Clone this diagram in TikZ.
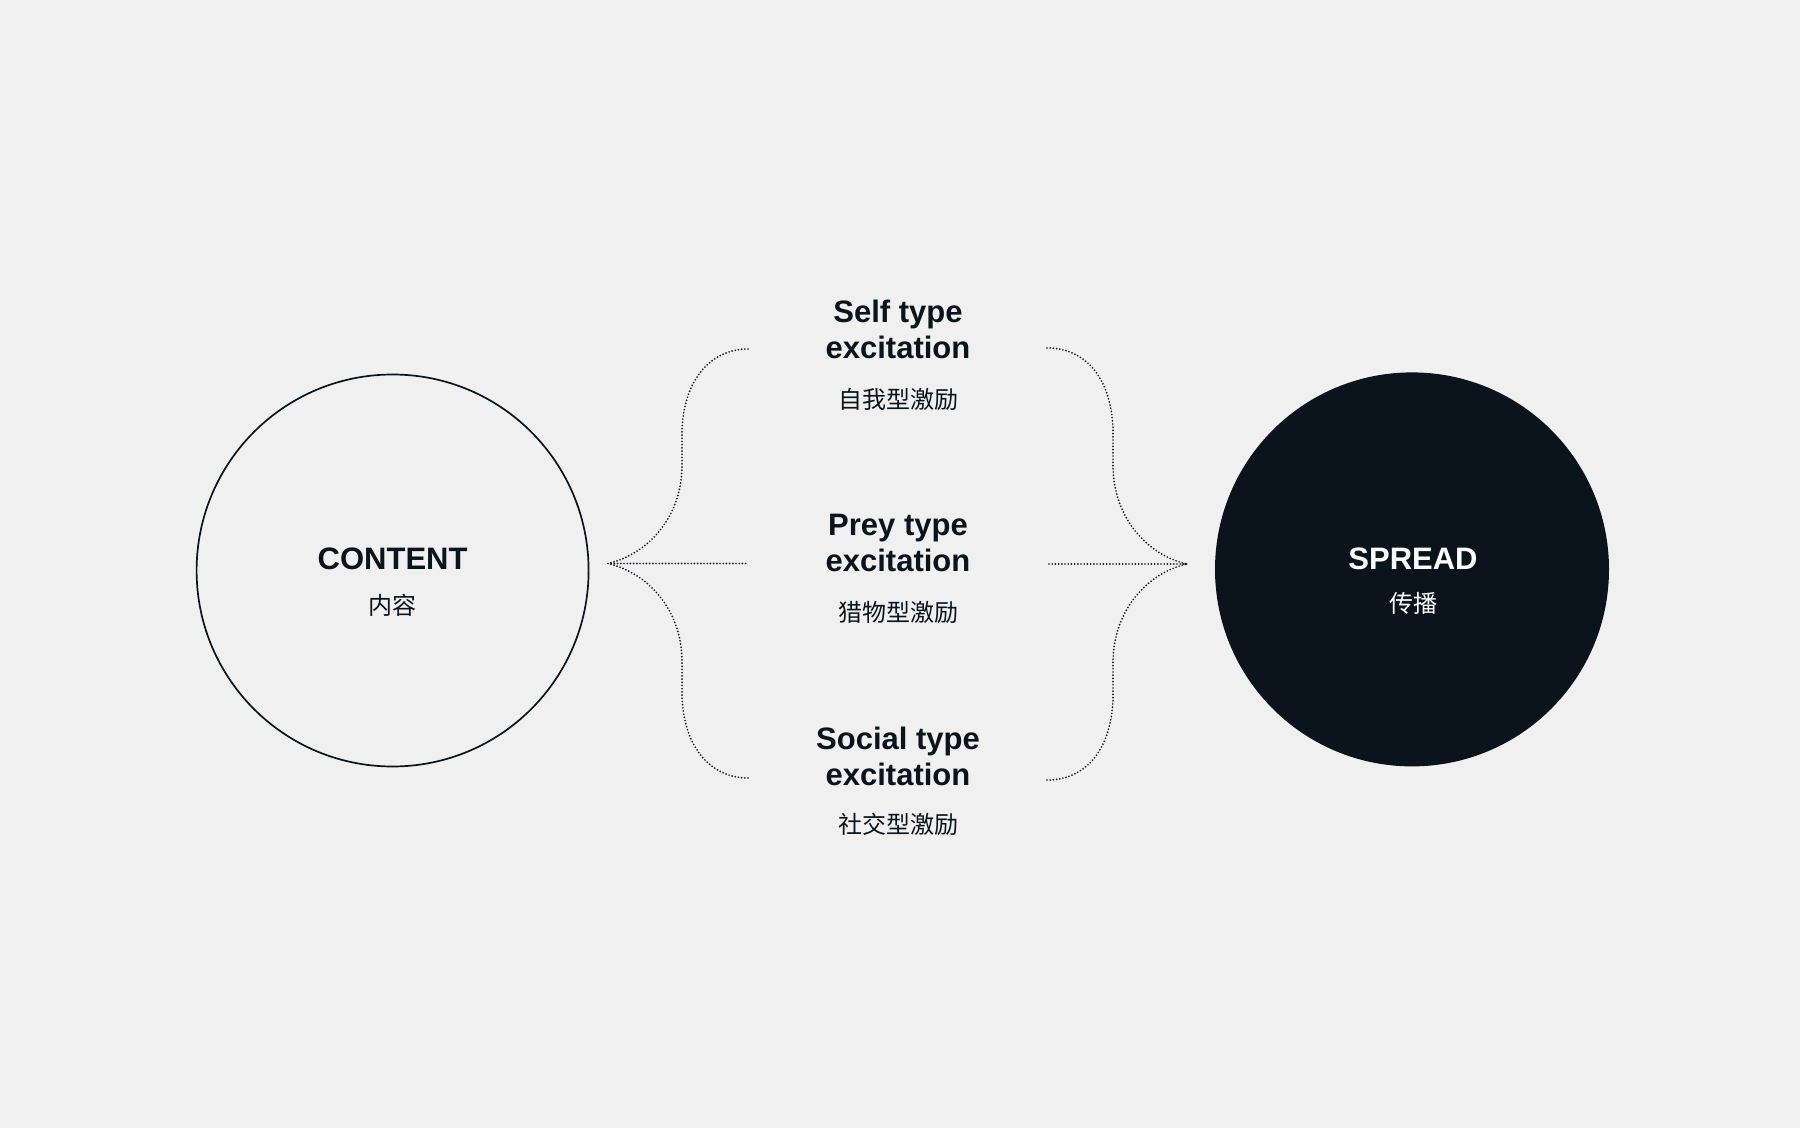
\documentclass[tikz,border=0pt]{standalone}
\usepackage{fontspec}
\setmainfont{Liberation Sans}
\newfontfamily\cjk{Noto Sans CJK SC}
\usetikzlibrary{positioning}
\definecolor{bgcol}{HTML}{F0F0F0}
\definecolor{ink}{HTML}{0B141C}
\tikzset{
  ring/.style={circle, draw=ink, line width=0.85pt, minimum size=196pt, inner sep=0pt},
  disc/.style={circle, fill=ink, minimum size=197pt, inner sep=0pt},
  title/.style={font=\fontsize{15.5}{18}\selectfont\bfseries, text=ink, align=center, inner sep=0pt},
  sub/.style={font=\cjk\fontsize{12}{14}\selectfont, text=ink, inner sep=0pt},
  brace/.style={ink, line width=0.95pt, dash pattern=on 0pt off 1.6pt, line cap=round},
}
\begin{document}
\begin{tikzpicture}[x=0.5pt, y=-0.5pt]
    \useasboundingbox[fill=bgcol] (0,0) rectangle (1800,1128);

    % The two circles
    \node[ring] (content) at (392.6, 570.5) {};
    \node[disc] (spread) at (1412, 569.4) {};
    \node[title] (contentlbl) at (392.6, 559) {CONTENT};
    \node[sub] (contentzh) at (392.6, 605) {内容};
    \node[title, text=white] (spreadlbl) at (1413, 559) {SPREAD};
    \node[sub, text=white] (spreadzh) at (1413, 603) {传播};

    % The three kinds of excitation
    \node[title] (self) at (898, 329) {Self type\\excitation};
    \node[sub] (selfzh) at (898, 399.5) {自我型激励};
    \node[title] (prey) at (898, 543) {Prey type\\excitation};
    \node[sub] (preyzh) at (898, 612) {猎物型激励};
    \node[title] (social) at (898, 756) {Social type\\excitation};
    \node[sub] (socialzh) at (898, 824) {社交型激励};

    % Left brace
    \coordinate (ltip) at (608, 563.5);
    \coordinate (ltop) at (748, 349);
    \coordinate (lmid) at (746, 563.5);
    \coordinate (lbot) at (748, 778);
    \draw[brace] (ltop) .. controls (712, 349) and (684, 378) .. (682, 430)
        -- (682, 465) .. controls (682, 520) and (645, 555) .. (ltip);
    \draw[brace] (lbot) .. controls (712, 778) and (684, 749) .. (682, 697)
        -- (682, 662) .. controls (682, 607) and (645, 572) .. (ltip);
    \draw[brace] (ltip) -- (lmid);

    % Right brace
    \coordinate (rtip) at (1187, 564);
    \coordinate (rtop) at (1047, 348);
    \coordinate (rmid) at (1049, 564);
    \coordinate (rbot) at (1047, 780);
    \draw[brace] (rtop) .. controls (1085, 348) and (1111, 377) .. (1113, 429)
        -- (1113, 465) .. controls (1113, 520) and (1150, 556) .. (rtip);
    \draw[brace] (rbot) .. controls (1085, 780) and (1111, 751) .. (1113, 699)
        -- (1113, 663) .. controls (1113, 608) and (1150, 572) .. (rtip);
    \draw[brace] (rmid) -- (rtip);

\end{tikzpicture}
\end{document}
